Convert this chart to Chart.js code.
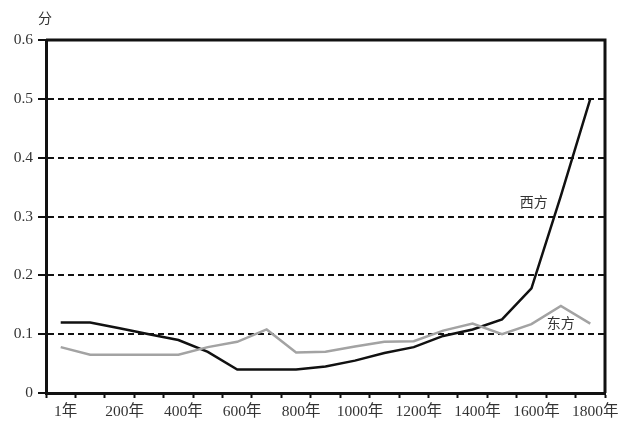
<!DOCTYPE html>
<html>
<head>
<meta charset="utf-8">
<script src="https://cdn.jsdelivr.net/npm/chart.js@4"></script>
<style>
  html, body { margin: 0; padding: 0; background: #fff; }
  #wrap { width: 628px; height: 433px; }
</style>
</head>
<body>
<div id="wrap"><canvas id="grafico"></canvas></div>
<script>
// datos
const anos = ["1年", "100年", "200年", "300年", "400年", "500年", "600年", "700年", "800年", "900年",
              "1000年", "1100年", "1200年", "1300年", "1400年", "1500年", "1600年", "1700年", "1800年"];
const oeste = [0.12, 0.12, 0.11, 0.10, 0.09, 0.07, 0.04, 0.04, 0.04, 0.045,
               0.055, 0.068, 0.078, 0.097, 0.108, 0.125, 0.178, 0.335, 0.50];
const este  = [0.078, 0.065, 0.065, 0.065, 0.065, 0.078, 0.087, 0.108, 0.069, 0.07,
               0.079, 0.087, 0.088, 0.106, 0.118, 0.10, 0.117, 0.148, 0.118];
const yTicks = [0, 0.1, 0.2, 0.3, 0.4, 0.5, 0.6];

const fuente = '"Liberation Serif", "Noto Sans CJK SC", serif';
const fuenteCJK = '"Noto Sans CJK SC", sans-serif';

// marco de arriba y derecha + textos
const extras = {
    id: "extras",
    afterDraw(chart) {
        const ctx = chart.ctx;
        const a = chart.chartArea;
        const x = chart.scales.x, y = chart.scales.y;
        ctx.save();
        ctx.strokeStyle = "#111";
        ctx.lineWidth = 3;
        ctx.beginPath();
        ctx.moveTo(a.left, a.top);
        ctx.lineTo(a.right, a.top);
        ctx.lineTo(a.right, a.bottom);
        ctx.stroke();

        ctx.fillStyle = "#333";
        ctx.textAlign = "center";
        ctx.textBaseline = "middle";
        ctx.font = "14px " + fuenteCJK;
        ctx.fillText("分", 45, 18);
        ctx.fillText("西方", x.getPixelForValue(16.08), y.getPixelForValue(0.325));
        ctx.fillText("东方", x.getPixelForValue(17.0), y.getPixelForValue(0.119));
        ctx.restore();
    }
};

new Chart(document.getElementById("grafico"), {
    type: "line",
    data: {
        labels: anos,
        datasets: [
            { label: "东方", data: este, borderColor: "#a3a3a3", borderWidth: 2.5, pointRadius: 0, tension: 0 },
            { label: "西方", data: oeste, borderColor: "#111", borderWidth: 2.5, pointRadius: 0, tension: 0 }
        ]
    },
    options: {
        responsive: true,
        maintainAspectRatio: false,
        animation: false,
        layout: { padding: { top: 40, right: 23, left: 0, bottom: 0 } },
        plugins: { legend: { display: false }, tooltip: { enabled: false } },
        scales: {
            x: {
                offset: true,
                grid: { offset: true, drawOnChartArea: false, tickLength: 5, tickWidth: 2, tickColor: "#111" },
                border: { color: "#111", width: 3 },
                ticks: {
                    autoSkip: false, maxRotation: 0, minRotation: 0, labelOffset: 5, padding: 5,
                    color: "#333", font: { family: fuente, size: 15.5 },
                    callback: function (v, i) { return i % 2 === 0 ? anos[i] : ""; }
                },
                afterFit: function (s) { s.height = 40; }
            },
            y: {
                min: 0, max: 0.6,
                afterBuildTicks: function (s) { s.ticks = yTicks.map(v => ({ value: v })); },
                grid: { color: "#111", lineWidth: 2, tickLength: 8, tickWidth: 2, tickColor: "#111", tickBorderDash: [] },
                border: { color: "#111", width: 3, dash: [6, 4] },
                ticks: {
                    padding: 5, color: "#333", font: { family: fuente, size: 15.5 },
                    callback: function (v) { return v === 0 ? "0" : v.toFixed(1); }
                },
                afterFit: function (s) { s.width = 46; }
            }
        }
    },
    plugins: [extras]
});
</script>
</body>
</html>
